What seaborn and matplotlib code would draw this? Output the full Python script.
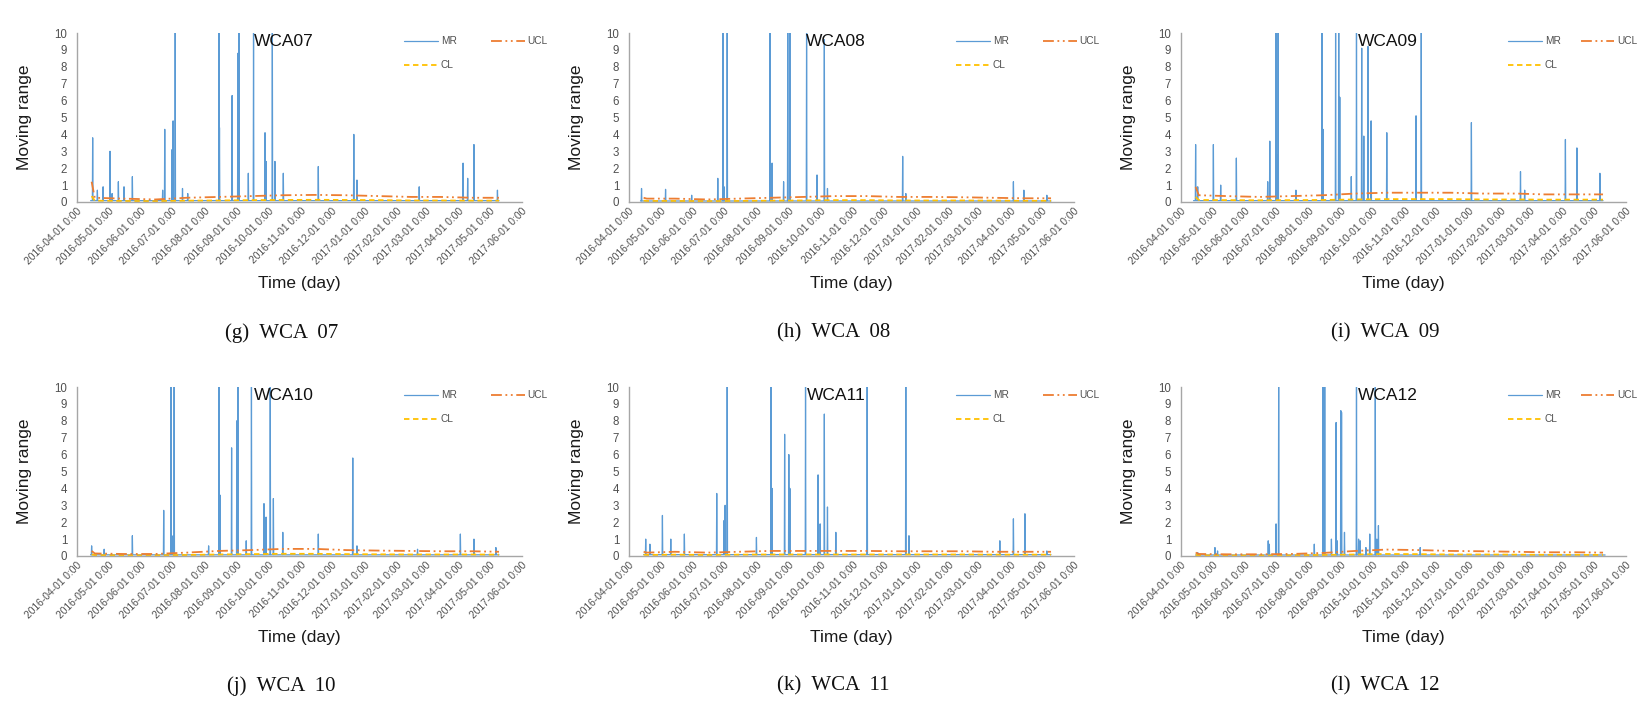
import numpy as np
import pandas as pd
import matplotlib
matplotlib.use("Agg")
import matplotlib.pyplot as plt
import matplotlib.dates as mdates
import seaborn as sns

# ---------------- data ----------------
START = "2016-04-01"
END = "2017-06-01"
PANELS = ["WCA07", "WCA08", "WCA09", "WCA10", "WCA11", "WCA12"]
CAPTIONS = ["(g)  WCA  07", "(h)  WCA  08", "(i)  WCA  09",
            "(j)  WCA  10", "(k)  WCA  11", "(l)  WCA  12"]

# data span (day offsets from START)
SPAN_07 = [13, 404]
SPAN_08 = [11, 404]
SPAN_09 = [12, 404]
SPAN_10 = [13, 404]
SPAN_11 = [14, 404]
SPAN_12 = [14, 406]

# typical low-level moving range between peaks
BASE_07 = 0.08
BASE_08 = 0.06
BASE_09 = 0.08
BASE_10 = 0.07
BASE_11 = 0.08
BASE_12 = 0.06

# MR peaks: day offsets and heights
MR07_DAY = [15, 19.5, 25, 31.6, 33.6, 39.6, 45, 53, 82, 84, 91, 92, 94, 101, 106,
            136, 136.4, 148.5, 154, 155, 164, 169, 180, 181, 187, 189.5, 197.5,
            231, 265, 268, 327.6, 369.6, 374, 380, 402.5]
MR07_VAL = [3.8, 0.7, 0.9, 3.0, 0.5, 1.2, 0.9, 1.5, 0.7, 4.3, 3.1, 4.8, 10, 0.8, 0.5,
            10, 4.4, 6.3, 8.8, 10, 1.7, 10, 4.1, 2.4, 10, 2.4, 1.7,
            2.1, 4.0, 1.3, 0.9, 2.3, 1.4, 3.4, 0.7]

MR08_DAY = [12, 35, 60, 85, 90, 91, 94, 135, 137, 148, 152, 154, 170, 180, 187,
            190, 262, 265, 368, 378, 400]
MR08_VAL = [0.8, 0.75, 0.4, 1.4, 10, 0.9, 10, 10, 2.3, 1.2, 10, 10, 10, 1.6, 9.6,
            0.8, 2.7, 0.5, 1.2, 0.7, 0.4]

MR09_DAY = [14, 16, 31, 38, 53, 83, 85, 91, 92, 93, 110, 135, 136, 148, 151, 152,
            163, 168, 173, 175, 179, 182, 197, 225, 230, 278, 325, 329, 368, 379, 401]
MR09_VAL = [3.4, 0.9, 3.4, 1.0, 2.6, 1.2, 3.6, 10, 2.8, 10, 0.7, 10, 4.3, 10, 10, 6.2,
            1.5, 10, 9.1, 3.9, 9.2, 4.8, 4.1, 5.1, 10, 4.7, 1.8, 0.7, 3.7, 3.2, 1.7]

MR10_DAY = [14, 26, 53, 83, 90, 92, 93, 126, 136, 137, 148, 153, 154, 162, 167,
            179, 181, 185, 188, 197, 231, 264, 268, 326, 367, 380, 401]
MR10_VAL = [0.6, 0.4, 1.2, 2.7, 10, 1.2, 10, 0.6, 10, 3.6, 6.4, 8.0, 10, 0.9, 10,
            3.1, 2.3, 10, 3.4, 1.4, 1.3, 5.8, 0.6, 0.4, 1.3, 1.0, 0.5]

MR11_DAY = [16, 20, 32, 40, 53, 84, 91, 92, 94, 122, 136, 137, 149, 153, 154,
            169, 181, 183, 187, 190, 198, 228, 265, 268, 355, 368, 379, 400]
MR11_VAL = [1.0, 0.7, 2.4, 1.0, 1.3, 3.7, 2.1, 3.0, 10, 1.1, 10, 4.0, 7.2, 6.0, 4.0,
            10, 4.8, 1.9, 8.4, 2.9, 1.4, 10, 10, 1.2, 0.9, 2.2, 2.5, 0.3]

MR12_DAY = [16, 32.5, 35, 83.5, 84.5, 91, 93.5, 127.6, 136, 136.7, 137.6, 144,
            148.5, 149.5, 153, 153.7, 156.5, 168, 170, 171.5, 177, 180.7, 186,
            187.5, 189, 229]
MR12_VAL = [0.2, 0.5, 0.3, 0.9, 0.7, 1.9, 10, 0.7, 10, 4.2, 10, 1.0,
            7.9, 0.9, 8.6, 8.5, 1.4, 10, 1.0, 0.9, 0.5, 1.3, 10,
            1.0, 1.8, 0.5]

# control limits, read at these dates
LIMIT_DATES = ["2016-04-15", "2016-04-18", "2016-05-15", "2016-06-15", "2016-07-15",
               "2016-08-15", "2016-09-15", "2016-10-15", "2016-11-15", "2016-12-15",
               "2017-01-15", "2017-02-15", "2017-03-15", "2017-04-15", "2017-05-10"]
UCL_07 = [1.2, 0.25, 0.2, 0.15, 0.25, 0.3, 0.35, 0.4, 0.42, 0.4, 0.35, 0.3, 0.3, 0.25, 0.25]
CL_07 = [0.35, 0.08, 0.06, 0.05, 0.08, 0.09, 0.11, 0.12, 0.13, 0.12, 0.11, 0.09, 0.09, 0.08, 0.08]
UCL_08 = [0.25, 0.2, 0.2, 0.15, 0.2, 0.25, 0.3, 0.35, 0.35, 0.3, 0.3, 0.28, 0.25, 0.22, 0.22]
CL_08 = [0.08, 0.06, 0.06, 0.05, 0.06, 0.08, 0.09, 0.11, 0.11, 0.09, 0.09, 0.09, 0.08, 0.07, 0.07]
UCL_09 = [0.9, 0.4, 0.35, 0.3, 0.35, 0.4, 0.5, 0.55, 0.55, 0.55, 0.5, 0.5, 0.45, 0.45, 0.45]
CL_09 = [0.3, 0.12, 0.11, 0.1, 0.11, 0.12, 0.15, 0.17, 0.17, 0.17, 0.15, 0.15, 0.14, 0.14, 0.14]
UCL_10 = [0.3, 0.15, 0.12, 0.12, 0.2, 0.3, 0.35, 0.42, 0.42, 0.35, 0.32, 0.3, 0.28, 0.28, 0.25]
CL_10 = [0.09, 0.05, 0.04, 0.04, 0.06, 0.09, 0.11, 0.13, 0.13, 0.11, 0.1, 0.09, 0.09, 0.09, 0.08]
UCL_11 = [0.25, 0.2, 0.25, 0.2, 0.25, 0.3, 0.3, 0.3, 0.3, 0.28, 0.28, 0.28, 0.25, 0.25, 0.25]
CL_11 = [0.08, 0.06, 0.08, 0.06, 0.08, 0.09, 0.09, 0.09, 0.09, 0.09, 0.09, 0.09, 0.08, 0.08, 0.08]
UCL_12 = [0.2, 0.12, 0.1, 0.1, 0.12, 0.18, 0.3, 0.38, 0.35, 0.3, 0.28, 0.25, 0.22, 0.22, 0.2]
CL_12 = [0.06, 0.04, 0.03, 0.03, 0.04, 0.06, 0.09, 0.12, 0.11, 0.09, 0.09, 0.08, 0.07, 0.07, 0.06]

SERIES = [
    (SPAN_07, BASE_07, MR07_DAY, MR07_VAL, UCL_07, CL_07),
    (SPAN_08, BASE_08, MR08_DAY, MR08_VAL, UCL_08, CL_08),
    (SPAN_09, BASE_09, MR09_DAY, MR09_VAL, UCL_09, CL_09),
    (SPAN_10, BASE_10, MR10_DAY, MR10_VAL, UCL_10, CL_10),
    (SPAN_11, BASE_11, MR11_DAY, MR11_VAL, UCL_11, CL_11),
    (SPAN_12, BASE_12, MR12_DAY, MR12_VAL, UCL_12, CL_12),
]

MONTH_TICKS = pd.date_range(START, END, freq="MS")

# ---------------- style ----------------
sns.set_theme(style="white")
plt.rcParams["font.family"] = ["Liberation Sans", "DejaVu Sans"]

C_MR = "#5B9BD5"
C_UCL = "#ED7D31"
C_CL = "#FFC000"
GRAY = "#505050"
SPINE = "#A6A6A6"

fig = plt.figure(figsize=(16.43, 7.19), dpi=100)
W, H = 1643.0, 719.0
lefts = [77, 629, 1181]
zeros = [202, 556]
AX_W, AX_H = 445, 169
COLSPACE = [3.4, 3.4, 2.0]

t0 = pd.Timestamp(START)


def mr_frame(span, base, days, vals):
    xs, ys = [t0 + pd.Timedelta(days=span[0])], [base]
    for d, v in zip(days, vals):
        xs += [t0 + pd.Timedelta(days=d - 0.3), t0 + pd.Timedelta(days=d),
               t0 + pd.Timedelta(days=d + 0.3)]
        ys += [base, v, base]
    xs.append(t0 + pd.Timedelta(days=span[1]))
    ys.append(base)
    return pd.DataFrame({"time": xs, "MR": ys})


for i, (name, cap, ser) in enumerate(zip(PANELS, CAPTIONS, SERIES)):
    span, base, days, vals, ucl, cl = ser
    r, c = divmod(i, 3)
    left = lefts[c] / W
    bottom = (H - zeros[r]) / H
    ax = fig.add_axes([left, bottom, AX_W / W, AX_H / H])

    mr = mr_frame(span, base, days, vals)
    lim = pd.DataFrame({"time": pd.to_datetime(LIMIT_DATES), "UCL": ucl, "CL": cl})

    sns.lineplot(data=mr, x="time", y="MR", ax=ax, color=C_MR, lw=0.9,
                 sort=False, estimator=None, label="MR")
    sns.lineplot(data=lim, x="time", y="CL", ax=ax, color=C_CL, lw=1.3,
                 linestyle=(0, (3, 2)), estimator=None, label="CL")
    sns.lineplot(data=lim, x="time", y="UCL", ax=ax, color=C_UCL, lw=1.3,
                 linestyle=(0, (6, 2, 1, 2, 1, 2)), estimator=None, label="UCL")

    ax.set_xlim(pd.Timestamp(START), pd.Timestamp(END))
    ax.set_ylim(0, 10)
    ax.set_yticks(range(0, 11))
    ax.set_xticks(MONTH_TICKS)
    ax.set_xticklabels([d.strftime("%Y-%m-%d") + " 0:00" for d in MONTH_TICKS],
                       rotation=45, ha="right", va="top", rotation_mode="anchor",
                       fontsize=7.4, color=GRAY)
    ax.tick_params(axis="y", labelsize=8.3, labelcolor=GRAY, length=0, pad=7)
    ax.tick_params(axis="x", length=0, pad=3)
    for s in ["top", "right"]:
        ax.spines[s].set_visible(False)
    for s in ["left", "bottom"]:
        ax.spines[s].set_color(SPINE)
        ax.spines[s].set_linewidth(1.0)

    ax.set_ylabel("Moving range", fontsize=12.5, color="#1a1a1a")
    ax.yaxis.set_label_coords(-0.1, 0.5)
    ax.set_xlabel("Time (day)", fontsize=12.5, color="#1a1a1a")
    ax.xaxis.set_label_coords(0.5, -0.44)

    ax.text(0.465, 0.95, name, transform=ax.transAxes, ha="center", va="center",
            fontsize=12.5, color="#111111")

    handles, labels = ax.get_legend_handles_labels()
    order = [labels.index("MR"), labels.index("CL"), labels.index("UCL")]
    ax.legend([handles[k] for k in order], [labels[k] for k in order],
              loc="upper left", bbox_to_anchor=(0.715, 1.035), ncol=2, frameon=False,
              fontsize=7.3, handlelength=3.3, columnspacing=COLSPACE[c], labelspacing=1.4,
              labelcolor=GRAY, handletextpad=0.3)

    cx = (lefts[c] + AX_W * 0.46) / W
    cy = 1 - (333 if r == 0 else 686) / H
    fig.text(cx, cy, cap, ha="center", va="center", fontsize=15,
             family=["Liberation Serif", "DejaVu Serif"], color="#111111")

fig.savefig("out.png", dpi=100)
